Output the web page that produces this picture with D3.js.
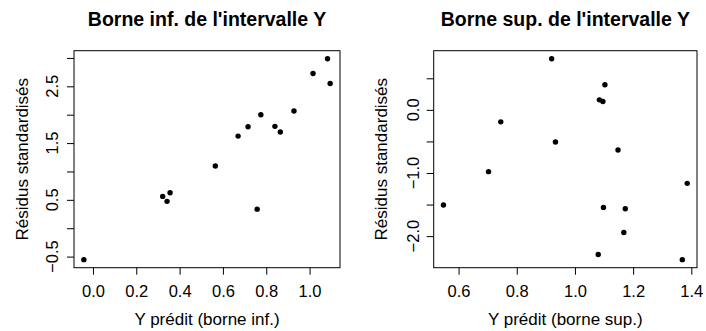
<!DOCTYPE html>
<html lang="fr">
<head>
<meta charset="UTF-8">
<title>Résidus standardisés</title>
<script src="https://d3js.org/d3.v7.min.js"></script>
<style>
body { margin: 0; background: #fff; }
svg text { font-family: "Liberation Sans", Arial, Helvetica, sans-serif; fill: #000; }
.axis line { stroke: #000; }
.axis path { display: none; }
</style>
</head>
<body>
<svg id="chart" width="706" height="331"></svg>
<script>
// valeurs
var titles = ["Borne inf. de l'intervalle Y", "Borne sup. de l'intervalle Y"]
var xLabels = ["Y prédit (borne inf.)", "Y prédit (borne sup.)"]
var yLabel = "Résidus standardisés"

var predInf = [-0.042, 0.322, 0.342, 0.356, 0.565, 0.670, 0.716, 0.758, 0.775, 0.840, 0.865, 0.928, 1.016, 1.083, 1.095]
var residInf = [-0.554, 0.561, 0.473, 0.626, 1.097, 1.623, 1.788, 0.336, 2.000, 1.795, 1.694, 2.065, 2.726, 2.986, 2.549]

var predSup = [0.548, 0.703, 0.745, 0.920, 0.933, 1.080, 1.084, 1.096, 1.103, 1.098, 1.148, 1.168, 1.173, 1.369, 1.386]
var residSup = [-1.508, -0.979, -0.190, 0.810, -0.508, -2.291, 0.159, 0.132, 0.397, -1.545, -0.635, -1.942, -1.566, -2.373, -1.164]

var xTicksInf = [0.0, 0.2, 0.4, 0.6, 0.8, 1.0]
var yTicksInf = [-0.5, 0.0, 0.5, 1.0, 1.5, 2.0, 2.5, 3.0]
var yLabelsInf = [-0.5, 0.5, 1.5, 2.5]

var xTicksSup = [0.6, 0.8, 1.0, 1.2, 1.4]
var yTicksSup = [-2.0, -1.5, -1.0, -0.5, 0.0, 0.5]
var yLabelsSup = [-2.0, -1.0, 0.0]

var svg = d3.select("#chart")
var fmt = d3.format(".1f")
var plotTop = 50.7, plotBottom = 267.7

// domaine étendu de 4 % comme dans R
function padded(v) {
  var e = d3.extent(v), p = (e[1] - e[0]) * 0.04
  return [e[0] - p, e[1] + p]
}

function panel(left, right, px, py, xt, yt, yl, title, xlab, ylOff) {
  var x = d3.scaleLinear().domain(padded(px)).range([left, right])
  var y = d3.scaleLinear().domain(padded(py)).range([plotBottom, plotTop])
  var g = svg.append("g")

  g.append("rect")
    .attr("x", left).attr("y", plotTop)
    .attr("width", right - left).attr("height", plotBottom - plotTop)
    .attr("fill", "none").attr("stroke", "#000").attr("stroke-width", 1)

  var ax = g.append("g").attr("class", "axis")
    .attr("transform", "translate(0," + plotBottom + ")")
    .call(d3.axisBottom(x).tickValues(xt).tickSize(7).tickFormat(fmt))
  ax.attr("font-size", null).attr("font-family", null)
  ax.selectAll("text").attr("font-size", 16.5).attr("dy", null).attr("y", 29)

  g.append("g").attr("class", "axis")
    .attr("transform", "translate(" + left + ",0)")
    .call(d3.axisLeft(y).tickValues(yt).tickSize(7).tickFormat(""))

  g.selectAll(".ylab").data(yl).enter().append("text")
    .attr("font-size", 16.5)
    .attr("text-anchor", "middle")
    .attr("transform", function(d) { return "translate(" + (left - ylOff) + "," + y(d) + ") rotate(-90)" })
    .text(fmt)

  g.selectAll("circle").data(px).enter().append("circle")
    .attr("cx", function(d) { return x(d) })
    .attr("cy", function(d, i) { return y(py[i]) })
    .attr("r", 2.7)
    .attr("fill", "#000")

  g.append("text")
    .attr("x", (left + right) / 2).attr("y", 26)
    .attr("text-anchor", "middle")
    .attr("font-size", 19.5).attr("font-weight", "bold")
    .text(title)

  g.append("text")
    .attr("x", (left + right) / 2).attr("y", 325)
    .attr("text-anchor", "middle")
    .attr("font-size", 17)
    .text(xlab)

  g.append("text")
    .attr("text-anchor", "middle")
    .attr("font-size", 17)
    .attr("transform", "translate(" + (left - 46.5) + "," + ((plotTop + plotBottom) / 2) + ") rotate(-90)")
    .text(yLabel)
}

panel(74, 340, predInf, residInf, xTicksInf, yTicksInf, yLabelsInf, titles[0], xLabels[0], 16.5)
panel(433.7, 697, predSup, residSup, xTicksSup, yTicksSup, yLabelsSup, titles[1], xLabels[1], 14.5)
</script>
</body>
</html>
